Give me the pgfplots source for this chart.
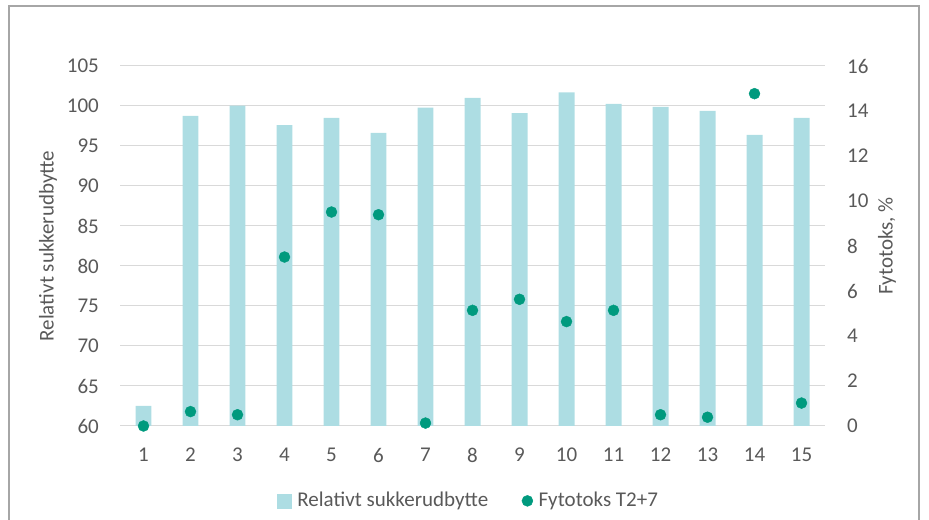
\documentclass[border=0pt]{standalone}
\usepackage{fontspec}
\setmainfont{Carlito}
\usepackage{pgfplots}
\pgfplotsset{compat=1.18}
\definecolor{barcol}{HTML}{ADDDE3}
\definecolor{dotcol}{HTML}{009A7E}
\definecolor{txt}{HTML}{595959}
\definecolor{gridc}{HTML}{D9D9D9}
\definecolor{framec}{HTML}{A6A6A6}
\pgfplotsset{
  base/.style={scale only axis, width=705bp, height=360bp, at={(120bp,94bp)}, anchor=south west,
    xmin=0.5, xmax=15.5, major tick length=0pt, tick style={draw=none},
    tick label style={text=txt, inner sep=0pt, /pgf/number format/assume math mode=true},
    label style={text=txt}},
}
\begin{document}
\fontsize{21bp}{25bp}\selectfont
\begin{tikzpicture}[x=1bp,y=1bp]
\path[use as bounding box] (0,0) rectangle (929,520);
\draw[framec, line width=1.4bp] (9,0) -- (9,514) -- (919,514) -- (919,0);
\begin{axis}[base, ybar, bar width=0.34, ymin=60, ymax=105, ytick={60,65,...,105}, xtick={1,...,15},
  ymajorgrids, grid style={gridc, line width=1bp},
  axis x line*=bottom, axis y line*=left, y axis line style={draw=none},
  x axis line style={gridc, line width=1bp},
  ylabel={Relativt sukkerudbytte},
  ylabel style={at={(axis description cs:-0.1021,0.5)}, anchor=center},
  xticklabel style={anchor=center, yshift=-29bp},
  yticklabel style={anchor=east, xshift=-21bp}]
\addplot[fill=barcol, draw=none] coordinates {
(1,62.5) (2,98.75) (3,100.05) (4,97.6) (5,98.5) (6,96.65) (7,99.8) (8,101.0)
(9,99.1) (10,101.7) (11,100.25) (12,99.9) (13,99.4) (14,96.4) (15,98.5)};
\end{axis}
\begin{axis}[base, ymin=0, ymax=16, ytick={0,2,...,16},
  axis y line*=right, axis x line=none, y axis line style={draw=none},
  ylabel={Fytotoks, \%},
  ylabel style={at={(axis description cs:1.088,0.5)}, anchor=center},
  yticklabel style={anchor=west, xshift=22bp},
  legend columns=2,
  legend style={draw=none, fill=none, at={(axis description cs:0.495,-0.208)}, anchor=center,
    /tikz/every even column/.append style={column sep=31bp},
    /tikz/every odd column/.append style={column sep=3bp},
    nodes={text=txt, inner sep=2.5bp}, cells={anchor=west}}]
\addlegendimage{legend image code/.code={\fill[barcol] (0bp,-7bp) rectangle (14bp,7bp);}}
\addlegendentry{Relativt sukkerudbytte}
\addplot[only marks, color=dotcol, mark=*, mark size=5.5bp, mark options={draw=none, fill=dotcol},
  legend image code/.code={\fill[dotcol] (5.5bp,0bp) circle[radius=5.5bp];}] coordinates {
(1,0.0) (2,0.64) (3,0.5) (4,7.51) (5,9.51) (6,9.39) (7,0.13) (8,5.14)
(9,5.63) (10,4.64) (11,5.14) (12,0.5) (13,0.39) (14,14.77) (15,1.02)};
\addlegendentry{Fytotoks T2+7}
\end{axis}
\end{tikzpicture}
\end{document}
